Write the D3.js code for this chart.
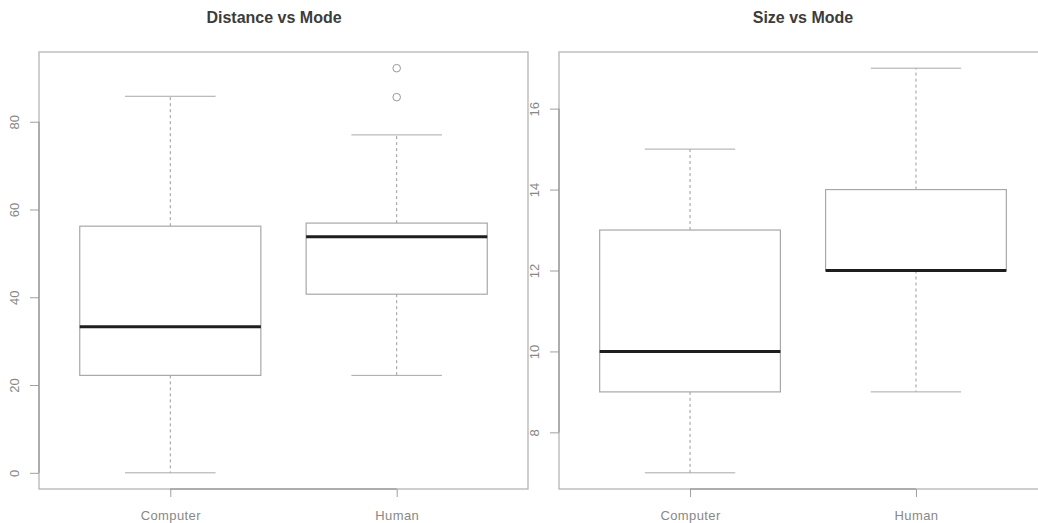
<!DOCTYPE html>
<html>
<head>
<meta charset="utf-8">
<script src="https://cdn.jsdelivr.net/npm/d3@7"></script>
<style>
  body { margin: 0; background: #fff; }
  svg { display: block; font-family: "Liberation Sans", Arial, sans-serif; }
</style>
</head>
<body>
<div id="chart"></div>
<script>
// categories on the x axis
const categories = ['Computer', 'Human'];

// Distance vs Mode (boxplot stats)
const distLow = [0, 22.2];
const distQ1 = [22.2, 40.7];
const distMed = [33.3, 53.8];
const distQ3 = [56.2, 56.9];
const distHigh = [85.8, 77.0];
const distOutliers = [[], [85.6, 92.2]];
const distTicks = [0, 20, 40, 60, 80];

// Size vs Mode
const sizeLow = [7, 9];
const sizeQ1 = [9, 12];
const sizeMed = [10, 12];
const sizeQ3 = [13, 14];
const sizeHigh = [15, 17];
const sizeOutliers = [[], []];
const sizeTicks = [8, 10, 12, 14, 16];

const W = 1038, H = 523;
const svg = d3.select('#chart').append('svg').attr('width', W).attr('height', H);

function buildRows(low, q1, med, q3, high, out) {
    return categories.map((c, i) => ({
        name: c, i: i + 1, low: low[i], q1: q1[i], med: med[i], q3: q3[i], high: high[i], out: out[i]
    }));
}

function panel(opts) {
    const {left, right, top, bottom, title, titleX, rows, ticks} = opts;
    const g = svg.append('g');

    // R style: extend ranges by 4%
    const x = d3.scaleLinear().domain([0.42, 2.58]).range([left, right]);
    const all = rows.flatMap(d => [d.low, d.high, ...d.out]);
    const [mn, mx] = d3.extent(all);
    const pad = (mx - mn) * 0.04;
    const y = d3.scaleLinear().domain([mn - pad, mx + pad]).range([bottom, top]);

    // plot frame
    g.append('rect')
        .attr('x', left).attr('y', top)
        .attr('width', right - left).attr('height', bottom - top)
        .attr('fill', 'none').attr('stroke', '#b4b4b4').attr('stroke-width', 1.3);

    const bw = x(1.4) - x(1);      // half box width
    const cw = bw / 2;             // half staple width

    const box = g.append('g').selectAll('g').data(rows).enter().append('g');

    // whiskers (dashed)
    box.append('line')
        .attr('x1', d => x(d.i)).attr('x2', d => x(d.i))
        .attr('y1', d => y(d.q3)).attr('y2', d => y(d.high))
        .attr('stroke', '#9a9a9a').attr('stroke-dasharray', '3,3');
    box.append('line')
        .attr('x1', d => x(d.i)).attr('x2', d => x(d.i))
        .attr('y1', d => y(d.q1)).attr('y2', d => y(d.low))
        .attr('stroke', '#9a9a9a').attr('stroke-dasharray', '3,3');

    // staples
    box.append('line')
        .attr('x1', d => x(d.i) - cw).attr('x2', d => x(d.i) + cw)
        .attr('y1', d => y(d.high)).attr('y2', d => y(d.high))
        .attr('stroke', '#a8a8a8');
    box.append('line')
        .attr('x1', d => x(d.i) - cw).attr('x2', d => x(d.i) + cw)
        .attr('y1', d => y(d.low)).attr('y2', d => y(d.low))
        .attr('stroke', '#a8a8a8');

    // box
    box.append('rect')
        .attr('x', d => x(d.i) - bw).attr('width', bw * 2)
        .attr('y', d => y(d.q3)).attr('height', d => y(d.q1) - y(d.q3))
        .attr('fill', '#fff').attr('stroke', '#a8a8a8').attr('stroke-width', 1.2);

    // median
    box.append('line')
        .attr('x1', d => x(d.i) - bw).attr('x2', d => x(d.i) + bw)
        .attr('y1', d => y(d.med)).attr('y2', d => y(d.med))
        .attr('stroke', '#1e1e1e').attr('stroke-width', 3);

    // outliers
    box.each(function(d) {
        d3.select(this).selectAll('circle').data(d.out).enter().append('circle')
            .attr('cx', x(d.i)).attr('cy', v => y(v)).attr('r', 3.8)
            .attr('fill', 'none').attr('stroke', '#999').attr('stroke-width', 1);
    });

    // y axis
    const ya = g.append('g').attr('transform', `translate(${left},0)`)
        .call(d3.axisLeft(y).tickValues(ticks).tickSize(9).tickFormat(d3.format('d')));
    ya.select('.domain').remove();
    ya.selectAll('.tick line').attr('stroke', '#a0a0a0');
    ya.append('line')
        .attr('x1', 0).attr('x2', 0)
        .attr('y1', y(ticks[0])).attr('y2', y(ticks[ticks.length - 1]))
        .attr('stroke', '#8c8c8c');
    ya.selectAll('.tick text')
        .attr('x', 0).attr('dy', null).attr('y', 0)
        .attr('text-anchor', 'middle')
        .attr('transform', 'translate(-20,0) rotate(-90)')
        .attr('font-size', 13).attr('fill', '#888')
        .attr('font-family', '"Liberation Sans", Arial, sans-serif');

    // x axis
    const xa = g.append('g').attr('transform', `translate(0,${bottom})`)
        .call(d3.axisBottom(x).tickValues([1, 2]).tickSize(8).tickFormat(v => categories[v - 1]));
    xa.select('.domain').remove();
    xa.selectAll('.tick line').attr('stroke', '#a0a0a0');
    xa.append('line')
        .attr('x1', x(1)).attr('x2', x(2)).attr('y1', 0).attr('y2', 0)
        .attr('stroke', '#8c8c8c');
    xa.selectAll('.tick text')
        .attr('y', 31).attr('dy', null)
        .attr('font-size', 13).attr('fill', '#888').attr('letter-spacing', 0.4)
        .attr('font-family', '"Liberation Sans", Arial, sans-serif');

    // title
    svg.append('text')
        .attr('x', titleX).attr('y', 23)
        .attr('text-anchor', 'middle')
        .attr('font-size', 16).attr('font-weight', 'bold').attr('fill', '#3c3c3c')
        .text(title);
}

panel({
    left: 39, right: 528, top: 52, bottom: 489,
    title: 'Distance vs Mode', titleX: 274,
    rows: buildRows(distLow, distQ1, distMed, distQ3, distHigh, distOutliers),
    ticks: distTicks
});

panel({
    left: 559, right: 1047, top: 52, bottom: 489,
    title: 'Size vs Mode', titleX: 803,
    rows: buildRows(sizeLow, sizeQ1, sizeMed, sizeQ3, sizeHigh, sizeOutliers),
    ticks: sizeTicks
});
</script>
</body>
</html>
